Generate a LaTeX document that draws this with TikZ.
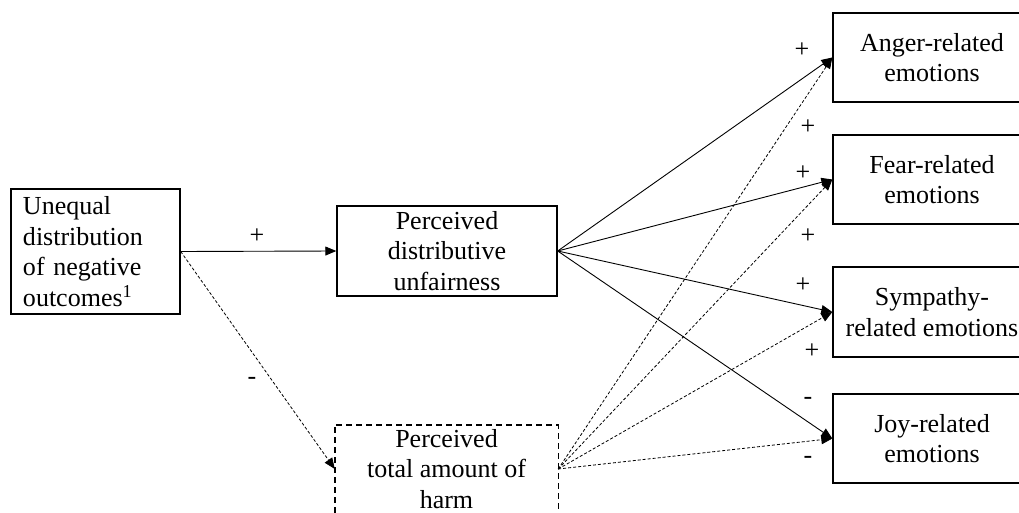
\documentclass[tikz,border=0pt]{standalone}
\usepackage{fontspec}
\setmainfont{Liberation Serif}
\usetikzlibrary{arrows.meta,calc}
\begin{document}
\begin{tikzpicture}[x=1pt,y=-1pt,
 txt/.style={font=\fontsize{26}{30.5}\selectfont},
 box/.style={txt,draw,line width=1.4pt,inner sep=0pt,align=center},
 lab/.style={txt,inner sep=0pt},
 tip/.style={-{Triangle[length=11pt,width=9pt]}},
 sol/.style={tip,line width=0.9pt},
 dot/.style={tip,line width=0.8pt,dash pattern=on 3pt off 2pt}]
\clip (0,0) rectangle (1019,513);
\fill[white] (0,0) rectangle (1019,513);
\node[box,minimum width=169pt,minimum height=125pt,text width=145pt,align=left] (U) at (95.5,251.5) {Unequal\\distribution\\of negative\\outcomes\textsuperscript{1}};
\node[box,minimum width=220pt,minimum height=90pt] (P) at (447,251) {Perceived\\distributive\\unfairness};
\node[lab,align=center,minimum width=223pt,minimum height=88pt] (H) at (446.5,469) {Perceived\\total amount of\\harm};
\draw[line width=1.4pt,dash pattern=on 6pt off 4pt] ([yshift=-20pt]H.south west) -- (H.north west) -- (H.north east) -- ([yshift=-20pt]H.south east);
\node[box,minimum width=198pt,minimum height=89pt] (A) at (932,57.5) {Anger-related\\emotions};
\node[box,minimum width=198pt,minimum height=89pt] (F) at (932,179.5) {Fear-related\\emotions};
\node[box,minimum width=198pt,minimum height=90pt] (S) at (932,312) {Sympathy-\\related emotions};
\node[box,minimum width=198pt,minimum height=89pt] (J) at (932,438.5) {Joy-related\\emotions};
\draw[sol] (U.east) -- (P.west);
\draw[dot] (U.east) -- (H.west);
\foreach \n in {A,F,S,J}{
  \draw[sol] (P.east) -- (\n.west);
  \draw[dot] (H.east) -- (\n.west);
}
\node[lab] (l1) at (257,236) {+};
\node[lab] (l2) at (252,381) {-};
\node[lab] (l3) at (802,50) {+};
\node[lab] (l4) at (808,127) {+};
\node[lab] (l5) at (803,173) {+};
\node[lab] (l6) at (808,236) {+};
\node[lab] (l7) at (803,285) {+};
\node[lab] (l8) at (812,351) {+};
\node[lab] (l9) at (808,401) {-};
\node[lab] (l10) at (808,460) {-};
\end{tikzpicture}
\end{document}
